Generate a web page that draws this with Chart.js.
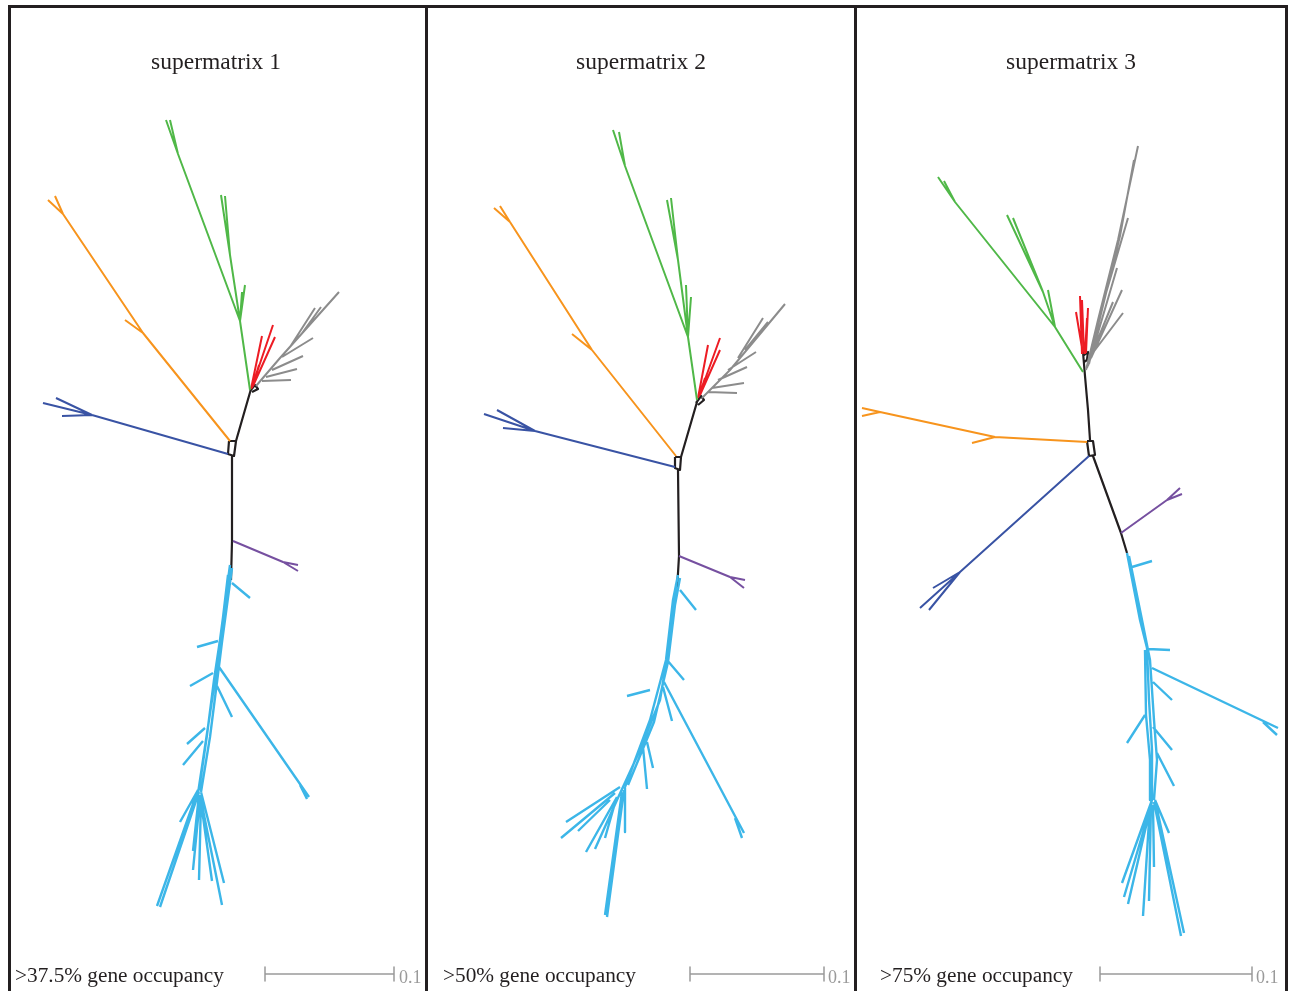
<!DOCTYPE html>
<html>
<head>
<meta charset="utf-8">
<script src="https://cdn.jsdelivr.net/npm/chart.js@4.4.1/dist/chart.umd.min.js"></script>
<style>
  body { margin: 0; background: #fff; }
  #wrap { position: relative; width: 1290px; height: 991px; overflow: hidden; }
  #tree { position: absolute; left: 0; top: 0; }
  .vline { position: absolute; top: 5px; width: 3px; height: 1000px; background: #231f20; }
  .hline { position: absolute; top: 5px; height: 3px; background: #231f20; }
  .title { position: absolute; top: 50px; font: 23.5px "Liberation Serif", "Times New Roman", serif;
           line-height: 23px; text-align: center; color: #231f20; white-space: nowrap; }
  .occ { position: absolute; top: 965px; font: 21.3px "Liberation Serif", "Times New Roman", serif;
         line-height: 21px; color: #231f20; white-space: nowrap; }
  .unit { position: absolute; top: 968px; font: 18px "Liberation Serif", "Times New Roman", serif;
          line-height: 18px; color: #9a9a9a; white-space: nowrap; }
</style>
</head>
<body>
<div id="wrap">
  <canvas id="tree" width="1290" height="991"></canvas>
  <div class="hline" style="left:8px; width:1280px;"></div>
  <div class="vline" style="left:8px;"></div>
  <div class="vline" style="left:425px;"></div>
  <div class="vline" style="left:854px;"></div>
  <div class="vline" style="left:1285px;"></div>
  <div class="title" style="left:116px; width:200px;">supermatrix 1</div>
  <div class="title" style="left:541px; width:200px;">supermatrix 2</div>
  <div class="title" style="left:971px; width:200px;">supermatrix 3</div>
  <div class="occ" style="left:15px;">&gt;37.5% gene occupancy</div>
  <div class="occ" style="left:443px;">&gt;50% gene occupancy</div>
  <div class="occ" style="left:880px;">&gt;75% gene occupancy</div>
  <div class="unit" style="left:399px;">0.1</div>
  <div class="unit" style="left:828px;">0.1</div>
  <div class="unit" style="left:1256px;">0.1</div>
</div>
<script>
// tree branches, each entry is one polyline [x,y, x,y, ...]
// supermatrix 1
const p1Black = [[251,389, 236,441], [229,441, 236,441, 234,456, 228,454, 229,441], [232,456, 232,541, 231,580], [250,391, 255,385, 258,389, 252,392]];
const p1Green = [[250,390, 240,321, 178,154, 166,120], [178,154, 170,120], [240,321, 230,255, 221,195], [230,255, 225,196], [240,321, 245,285], [240,321, 242,292]];
const p1Red = [[251,389, 262,336], [252,387, 273,325], [253,386, 275,337], [252,388, 259,365]];
const p1Gray = [[256,386, 280,358, 339,292], [262,381, 291,380], [266,377, 297,369], [272,370, 303,356], [282,357, 313,338], [290,347, 315,308], [300,336, 321,307]];
const p1Orange = [[230,441, 143,333, 63,214, 48,200], [63,214, 55,196], [143,333, 125,320]];
const p1Blue = [[228,454, 92,415, 43,403], [92,415, 56,398], [92,415, 62,416]];
const p1Purple = [[233,541, 283,562, 298,565], [283,562, 298,571]];
const p1Cyan = [
  [230,565, 220,640, 214,680, 207,735, 199,790], [232,568, 222,642, 217,682, 210,737, 201,792], [228,575, 218,660, 212,700, 203,760, 197,800],
  [232,583, 250,598], [218,641, 197,647], [213,673, 190,686], [219,667, 309,797], [300,785, 307,799],
  [217,686, 232,717], [205,728, 187,744], [203,741, 183,765], [198,790, 180,822],
  [198,790, 157,906], [199,792, 160,907], [199,795, 193,851], [200,798, 193,870], [201,800, 199,880],
  [200,795, 212,881], [201,792, 224,883], [201,800, 222,905]
];
// supermatrix 2
const p2Black = [[697,402, 681,457], [675,457, 681,457, 680,470, 675,468, 675,457], [678,470, 679,556, 677,590], [696,403, 701,396, 704,400, 698,405]];
const p2Green = [[697,400, 688,337, 625,166, 613,130], [625,166, 619,132], [688,337, 678,260, 667,200], [678,260, 671,198], [688,337, 691,297], [688,337, 686,285]];
const p2Red = [[698,398, 708,345], [699,396, 720,338], [700,395, 720,350], [699,396, 705,378]];
const p2Gray = [[702,398, 730,370, 785,304], [708,392, 737,393], [712,388, 744,383], [718,380, 747,367], [728,370, 756,352], [738,358, 763,318], [745,350, 768,322]];
const p2Orange = [[676,456, 592,350, 510,222, 494,208], [510,222, 500,206], [592,350, 572,334]];
const p2Blue = [[675,467, 535,431, 484,414], [535,431, 497,410], [535,431, 503,428]];
const p2Purple = [[679,556, 730,577, 745,580], [730,577, 744,588]];
const p2Cyan = [
  [678,575, 673,600, 666,660, 650,720, 625,787], [680,578, 675,605, 668,662, 654,722, 628,785], [676,585, 670,640, 660,700, 640,750, 617,800],
  [680,590, 696,610], [667,660, 684,680], [650,690, 627,696], [664,682, 744,833], [735,818, 742,838],
  [663,687, 672,721], [647,742, 653,768], [643,747, 647,789], [625,788, 625,832],
  [624,790, 607,917], [622,792, 605,915], [620,787, 566,822], [615,793, 561,838], [610,800, 578,831],
  [617,797, 586,852], [617,800, 595,849], [615,803, 605,838]
];
// supermatrix 3
const p3Black = [[1085,376, 1088,410, 1090,440], [1087,441, 1093,441, 1095,455, 1089,456, 1087,441], [1093,456, 1121,533, 1127,553], [1085,376, 1083,352], [1083,356, 1088,352, 1087,360, 1084,362]];
const p3Green = [[1083,372, 1055,327, 955,202, 938,177], [955,202, 944,181], [1055,327, 1043,292, 1007,215], [1043,292, 1013,218], [1055,327, 1048,290]];
const p3Red = [[1082,354, 1080,296], [1083,354, 1076,312], [1086,353, 1088,308], [1085,354, 1087,318], [1084,352, 1082,300]];
const p3Gray = [
  [1086,370, 1098,320, 1118,240, 1138,146], [1087,368, 1100,318, 1120,236, 1134,160], [1088,366, 1104,300, 1128,218],
  [1089,364, 1103,300, 1120,233], [1090,360, 1117,268], [1091,358, 1122,290], [1091,356, 1113,302], [1092,354, 1123,313]
];
const p3Orange = [[1087,442, 995,437, 880,412, 862,408], [880,412, 862,416], [995,437, 972,443]];
const p3Blue = [[1089,456, 960,572, 920,608], [960,572, 929,610], [960,572, 933,588]];
const p3Purple = [[1121,533, 1167,500, 1180,488], [1167,500, 1182,494]];
const p3Cyan = [
  [1127,553, 1140,620, 1147,648, 1149,700, 1152,750, 1152,800], [1129,556, 1142,620, 1150,660, 1154,720, 1157,760, 1154,800], [1145,650, 1146,715, 1150,760, 1150,800],
  [1132,567, 1152,561], [1148,649, 1170,650], [1152,668, 1278,728], [1263,722, 1277,735],
  [1153,682, 1172,700], [1145,715, 1127,743], [1153,727, 1172,750], [1157,753, 1174,786],
  [1152,800, 1122,883], [1152,802, 1124,897], [1151,805, 1128,904], [1150,805, 1143,916], [1151,805, 1149,901],
  [1153,805, 1154,867], [1155,800, 1169,833], [1154,802, 1181,936], [1155,800, 1184,933]
];
// scale bars (x start, x end) at the bottom of each panel, 0.1 substitutions/site
const scaleBars = [[265,394], [690,824], [1100,1252]];
const scaleY = 974;

const colors = {
  black: "#231f20", green: "#50b848", red: "#ed1c24", gray: "#8c8c8c",
  orange: "#f7941d", blue: "#3953a4", purple: "#7650a0", cyan: "#3cb6e8"
};

function toPoints(polys) {
  const pts = [];
  polys.forEach(p => {
    for (let i = 0; i < p.length; i += 2) pts.push({x: p[i], y: p[i+1]});
    pts.push({x: p[0], y: null});
  });
  return pts;
}

function branchSet(polys, color, width) {
  return {
    data: toPoints(polys),
    showLine: true,
    borderColor: color,
    borderWidth: width,
    pointRadius: 0,
    spanGaps: false,
    borderJoinStyle: "round"
  };
}

const datasets = [];
[[p1Black, p1Green, p1Red, p1Gray, p1Orange, p1Blue, p1Purple, p1Cyan],
 [p2Black, p2Green, p2Red, p2Gray, p2Orange, p2Blue, p2Purple, p2Cyan],
 [p3Black, p3Green, p3Red, p3Gray, p3Orange, p3Blue, p3Purple, p3Cyan]].forEach(p => {
  datasets.push(branchSet(p[7], colors.cyan, 2.4));
  datasets.push(branchSet(p[1], colors.green, 2));
  datasets.push(branchSet(p[4], colors.orange, 2));
  datasets.push(branchSet(p[5], colors.blue, 2));
  datasets.push(branchSet(p[6], colors.purple, 2));
  datasets.push(branchSet(p[3], colors.gray, 2));
  datasets.push(branchSet(p[2], colors.red, 2));
  datasets.push(branchSet(p[0], colors.black, 2.2));
});

const bars = [];
scaleBars.forEach(b => {
  bars.push([b[0],scaleY, b[1],scaleY], [b[0],scaleY-7, b[0],scaleY+7], [b[1],scaleY-7, b[1],scaleY+7]);
});
datasets.push(branchSet(bars, "#9a9a9a", 1.5));

new Chart(document.getElementById("tree"), {
  type: "scatter",
  data: { datasets: datasets },
  options: {
    responsive: false,
    animation: false,
    layout: { padding: 0 },
    scales: {
      x: { type: "linear", min: 0, max: 1290, display: false },
      y: { type: "linear", min: 0, max: 991, reverse: true, display: false }
    },
    plugins: { legend: { display: false }, tooltip: { enabled: false } }
  }
});
</script>
</body>
</html>
